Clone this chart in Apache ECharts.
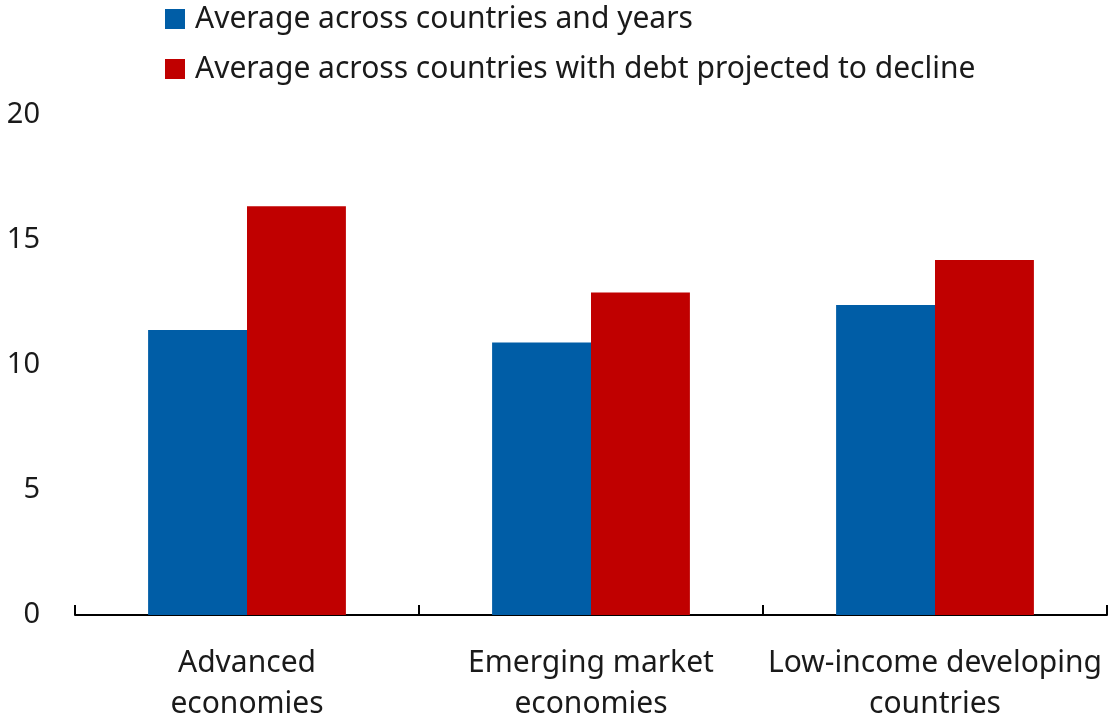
<!DOCTYPE html>
<html>
<head>
<meta charset="utf-8">
<script src="https://cdn.jsdelivr.net/npm/echarts@6/dist/echarts.min.js"></script>
<style>html,body{margin:0;padding:0;background:#fff;}#c{width:1115px;height:721px;}</style>
</head>
<body>
<div id="c"></div>
<script>
const categories = ["Advanced\neconomies", "Emerging market\neconomies", "Low-income developing\ncountries"];
const seriesNames = ["Average across countries and years", "Average across countries with debt projected to decline"];
const avgAll = [11.4, 10.9, 12.4];
const avgDecline = [16.35, 12.9, 14.2];
const yTicks = [0, 5, 10, 15, 20];

const FONT = "Noto Sans";
const chart = echarts.init(document.getElementById('c'), null, {renderer: 'canvas'});
chart.setOption({
  animation: false,
  backgroundColor: '#fff',
  textStyle: {fontFamily: FONT},
  legend: {
    orient: 'vertical', left: 160, top: -1,
    itemWidth: 20, itemHeight: 20, itemGap: 20,
    icon: 'rect',
    textStyle: {fontSize: 30, color: '#1a1a1a', fontFamily: FONT, padding: [0,0,0,5]},
    data: seriesNames
  },
  grid: {left: 75, right: 8, top: 115, bottom: 106, containLabel: false, outerBoundsMode: 'none'},
  xAxis: {
    type: 'category', data: categories,
    axisLine: {lineStyle: {color: '#000', width: 2}},
    axisTick: {show: true, inside: true, length: 10, lineStyle: {color: '#000', width: 2}},
    axisLabel: {fontSize: 30, color: '#1a1a1a', fontFamily: FONT, margin: 28, lineHeight: 41, interval: 0}
  },
  yAxis: {
    type: 'value', min: yTicks[0], max: yTicks[yTicks.length-1], interval: 5,
    axisLine: {show: false}, axisTick: {show: false}, splitLine: {show: false},
    axisLabel: {fontSize: 29, color: '#1a1a1a', fontFamily: FONT, margin: 35}
  },
  series: [
    {name: seriesNames[0], type: 'bar', data: avgAll, itemStyle: {color: '#005DA6'}, barGap: '0%', barCategoryGap: '42.5%'},
    {name: seriesNames[1], type: 'bar', data: avgDecline, itemStyle: {color: '#C00000'}, barGap: '0%', barCategoryGap: '42.5%'}
  ]
});
</script>
</body>
</html>
